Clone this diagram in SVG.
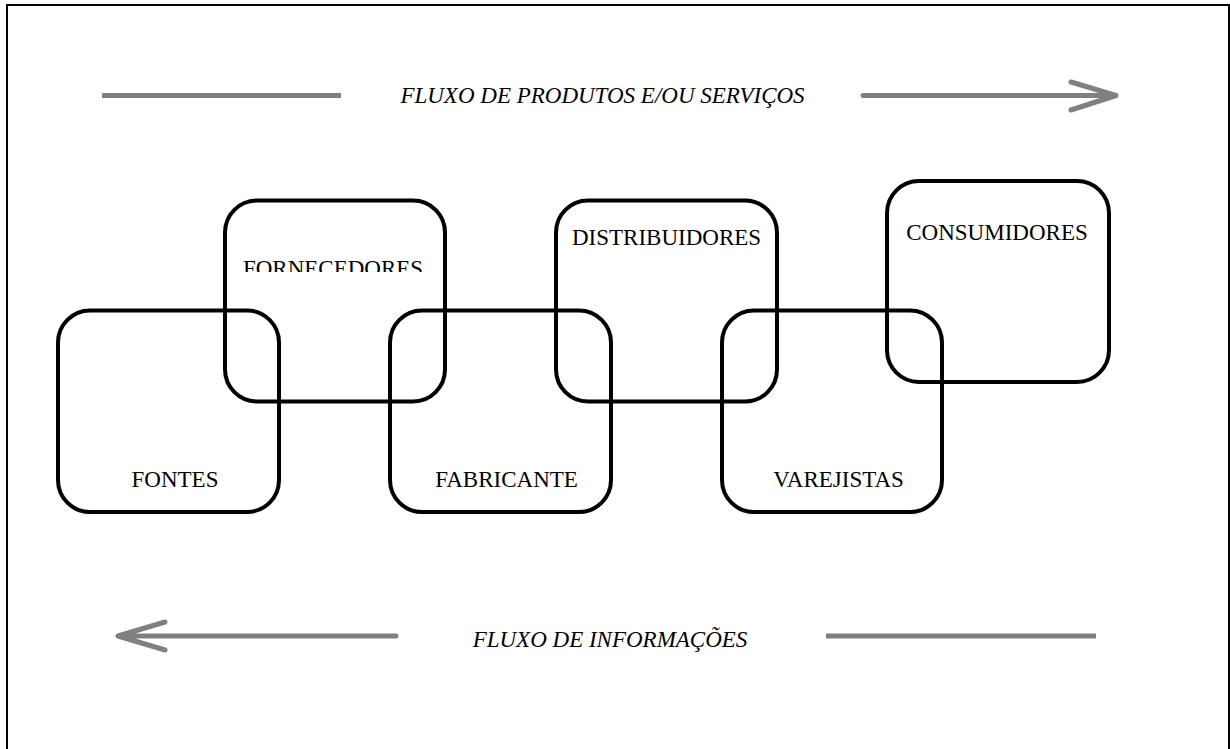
<svg xmlns="http://www.w3.org/2000/svg" width="1230" height="749" viewBox="0 0 1230 749">
  <style>
    .box { fill: none; stroke: #000; stroke-width: 4; }
    .lbl { font-family: "Liberation Serif", "Times New Roman", serif; font-size: 23px; fill: #000; text-anchor: middle; }
    .flow { font-family: "Liberation Serif", "Times New Roman", serif; font-size: 23px; font-style: italic; fill: #000; text-anchor: middle; }
    .arr { fill: none; stroke: #808080; stroke-width: 5; stroke-linecap: round; stroke-linejoin: round; }
    .bar { fill: none; stroke: #808080; stroke-width: 5; stroke-linecap: butt; }
  </style>
  <defs>
    <clipPath id="cut-top">
      <rect x="225" y="200" width="220" height="72"/>
    </clipPath>
  </defs>

  <rect x="0" y="0" width="1230" height="749" fill="#fff"/>
  <!-- page frame -->
  <rect x="7" y="5" width="1222" height="780" fill="none" stroke="#000" stroke-width="2"/>

  <!-- flow arrows -->
  <g id="connectors">
    <line class="bar" x1="102" y1="95.5" x2="341" y2="95.5"/>
    <path class="arr" d="M863 95.5 H1116 M1071 82 L1116 95.5 L1071 110"/>
    <path class="arr" d="M396 636 H118 M165 622 L118 636 L165 650"/>
    <line class="bar" x1="826" y1="636" x2="1096" y2="636"/>
  </g>

  <g id="flow-products">
    <text class="flow" x="602.5" y="102.5">FLUXO DE PRODUTOS E/OU SERVIÇOS</text>
  </g>
  <g id="flow-info">
    <text class="flow" x="610" y="647">FLUXO DE INFORMAÇÕES</text>
  </g>

  <g id="fontes">
    <rect class="box" x="58" y="310.5" width="221" height="201.5" rx="32"/>
    <text class="lbl" x="175" y="487">FONTES</text>
  </g>
  <g id="fornecedores">
    <rect class="box" x="225" y="200.5" width="220" height="201" rx="32"/>
    <text class="lbl" x="333" y="275.5" clip-path="url(#cut-top)">FORNECEDORES</text>
  </g>
  <g id="fabricante">
    <rect class="box" x="390" y="310.5" width="221" height="201.5" rx="32"/>
    <text class="lbl" x="506.5" y="487">FABRICANTE</text>
  </g>
  <g id="distribuidores">
    <rect class="box" x="556" y="200.5" width="221" height="201" rx="32"/>
    <text class="lbl" x="666.5" y="245">DISTRIBUIDORES</text>
  </g>
  <g id="varejistas">
    <rect class="box" x="722" y="310.5" width="220" height="201.5" rx="32"/>
    <text class="lbl" x="838.5" y="487">VAREJISTAS</text>
  </g>
  <g id="consumidores">
    <rect class="box" x="887" y="181" width="222" height="201" rx="32"/>
    <text class="lbl" x="997" y="240">CONSUMIDORES</text>
  </g>
</svg>
